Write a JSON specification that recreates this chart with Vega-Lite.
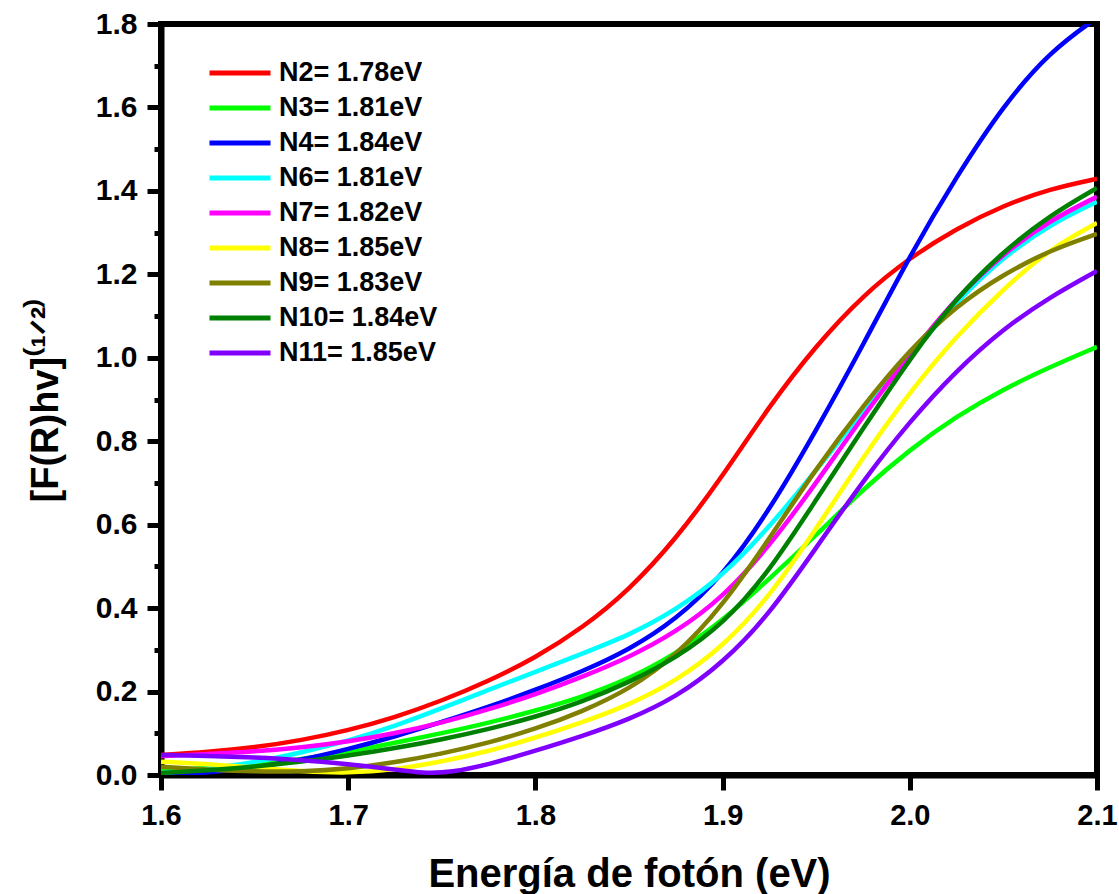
{
  "$schema": "https://vega.github.io/schema/vega-lite/v6.json",
  "width": 936,
  "height": 751,
  "autosize": {"type": "none"},
  "padding": {"left": 161, "top": 24, "right": 22, "bottom": 119},
  "background": "white",
  "config": {
    "view": {"stroke": "black", "strokeWidth": 6},
    "font": "Liberation Sans"
  },
  "datasets": {
    "curves": [
      {"s": "N2= 1.78eV", "x": 1.6, "y": 0.048}, {"s": "N2= 1.78eV", "x": 1.625, "y": 0.055}, {"s": "N2= 1.78eV", "x": 1.65, "y": 0.066}, {"s": "N2= 1.78eV", "x": 1.675, "y": 0.083}, {"s": "N2= 1.78eV", "x": 1.7, "y": 0.107}, {"s": "N2= 1.78eV", "x": 1.725, "y": 0.138}, {"s": "N2= 1.78eV", "x": 1.75, "y": 0.178}, {"s": "N2= 1.78eV", "x": 1.775, "y": 0.225}, {"s": "N2= 1.78eV", "x": 1.8, "y": 0.281}, {"s": "N2= 1.78eV", "x": 1.825, "y": 0.352}, {"s": "N2= 1.78eV", "x": 1.85, "y": 0.443}, {"s": "N2= 1.78eV", "x": 1.875, "y": 0.565}, {"s": "N2= 1.78eV", "x": 1.9, "y": 0.716}, {"s": "N2= 1.78eV", "x": 1.925, "y": 0.885}, {"s": "N2= 1.78eV", "x": 1.95, "y": 1.03}, {"s": "N2= 1.78eV", "x": 1.975, "y": 1.15}, {"s": "N2= 1.78eV", "x": 2.0, "y": 1.24}, {"s": "N2= 1.78eV", "x": 2.025, "y": 1.31}, {"s": "N2= 1.78eV", "x": 2.05, "y": 1.365}, {"s": "N2= 1.78eV", "x": 2.075, "y": 1.405}, {"s": "N2= 1.78eV", "x": 2.1, "y": 1.429},
      {"s": "N3= 1.81eV", "x": 1.6, "y": 0.01}, {"s": "N3= 1.81eV", "x": 1.625, "y": 0.016}, {"s": "N3= 1.81eV", "x": 1.65, "y": 0.025}, {"s": "N3= 1.81eV", "x": 1.675, "y": 0.038}, {"s": "N3= 1.81eV", "x": 1.7, "y": 0.055}, {"s": "N3= 1.81eV", "x": 1.725, "y": 0.077}, {"s": "N3= 1.81eV", "x": 1.75, "y": 0.1}, {"s": "N3= 1.81eV", "x": 1.775, "y": 0.125}, {"s": "N3= 1.81eV", "x": 1.8, "y": 0.154}, {"s": "N3= 1.81eV", "x": 1.825, "y": 0.187}, {"s": "N3= 1.81eV", "x": 1.85, "y": 0.23}, {"s": "N3= 1.81eV", "x": 1.875, "y": 0.29}, {"s": "N3= 1.81eV", "x": 1.9, "y": 0.37}, {"s": "N3= 1.81eV", "x": 1.925, "y": 0.47}, {"s": "N3= 1.81eV", "x": 1.95, "y": 0.575}, {"s": "N3= 1.81eV", "x": 1.975, "y": 0.685}, {"s": "N3= 1.81eV", "x": 2.0, "y": 0.78}, {"s": "N3= 1.81eV", "x": 2.025, "y": 0.86}, {"s": "N3= 1.81eV", "x": 2.05, "y": 0.925}, {"s": "N3= 1.81eV", "x": 2.075, "y": 0.978}, {"s": "N3= 1.81eV", "x": 2.1, "y": 1.026},
      {"s": "N4= 1.84eV", "x": 1.6, "y": 0.0}, {"s": "N4= 1.84eV", "x": 1.625, "y": 0.005}, {"s": "N4= 1.84eV", "x": 1.65, "y": 0.018}, {"s": "N4= 1.84eV", "x": 1.675, "y": 0.036}, {"s": "N4= 1.84eV", "x": 1.7, "y": 0.062}, {"s": "N4= 1.84eV", "x": 1.725, "y": 0.092}, {"s": "N4= 1.84eV", "x": 1.75, "y": 0.127}, {"s": "N4= 1.84eV", "x": 1.775, "y": 0.163}, {"s": "N4= 1.84eV", "x": 1.8, "y": 0.204}, {"s": "N4= 1.84eV", "x": 1.825, "y": 0.248}, {"s": "N4= 1.84eV", "x": 1.85, "y": 0.3}, {"s": "N4= 1.84eV", "x": 1.875, "y": 0.372}, {"s": "N4= 1.84eV", "x": 1.9, "y": 0.477}, {"s": "N4= 1.84eV", "x": 1.925, "y": 0.634}, {"s": "N4= 1.84eV", "x": 1.95, "y": 0.826}, {"s": "N4= 1.84eV", "x": 1.975, "y": 1.03}, {"s": "N4= 1.84eV", "x": 2.0, "y": 1.245}, {"s": "N4= 1.84eV", "x": 2.025, "y": 1.435}, {"s": "N4= 1.84eV", "x": 2.05, "y": 1.605}, {"s": "N4= 1.84eV", "x": 2.075, "y": 1.735}, {"s": "N4= 1.84eV", "x": 2.1, "y": 1.815},
      {"s": "N6= 1.81eV", "x": 1.6, "y": 0.005}, {"s": "N6= 1.81eV", "x": 1.625, "y": 0.015}, {"s": "N6= 1.81eV", "x": 1.65, "y": 0.03}, {"s": "N6= 1.81eV", "x": 1.675, "y": 0.054}, {"s": "N6= 1.81eV", "x": 1.7, "y": 0.082}, {"s": "N6= 1.81eV", "x": 1.725, "y": 0.117}, {"s": "N6= 1.81eV", "x": 1.75, "y": 0.16}, {"s": "N6= 1.81eV", "x": 1.775, "y": 0.204}, {"s": "N6= 1.81eV", "x": 1.8, "y": 0.247}, {"s": "N6= 1.81eV", "x": 1.825, "y": 0.291}, {"s": "N6= 1.81eV", "x": 1.85, "y": 0.335}, {"s": "N6= 1.81eV", "x": 1.875, "y": 0.395}, {"s": "N6= 1.81eV", "x": 1.9, "y": 0.477}, {"s": "N6= 1.81eV", "x": 1.925, "y": 0.594}, {"s": "N6= 1.81eV", "x": 1.95, "y": 0.73}, {"s": "N6= 1.81eV", "x": 1.975, "y": 0.872}, {"s": "N6= 1.81eV", "x": 2.0, "y": 1.005}, {"s": "N6= 1.81eV", "x": 2.025, "y": 1.135}, {"s": "N6= 1.81eV", "x": 2.05, "y": 1.242}, {"s": "N6= 1.81eV", "x": 2.075, "y": 1.32}, {"s": "N6= 1.81eV", "x": 2.1, "y": 1.374},
      {"s": "N7= 1.82eV", "x": 1.6, "y": 0.045}, {"s": "N7= 1.82eV", "x": 1.625, "y": 0.05}, {"s": "N7= 1.82eV", "x": 1.65, "y": 0.056}, {"s": "N7= 1.82eV", "x": 1.675, "y": 0.066}, {"s": "N7= 1.82eV", "x": 1.7, "y": 0.08}, {"s": "N7= 1.82eV", "x": 1.725, "y": 0.1}, {"s": "N7= 1.82eV", "x": 1.75, "y": 0.125}, {"s": "N7= 1.82eV", "x": 1.775, "y": 0.157}, {"s": "N7= 1.82eV", "x": 1.8, "y": 0.193}, {"s": "N7= 1.82eV", "x": 1.825, "y": 0.235}, {"s": "N7= 1.82eV", "x": 1.85, "y": 0.282}, {"s": "N7= 1.82eV", "x": 1.875, "y": 0.342}, {"s": "N7= 1.82eV", "x": 1.9, "y": 0.425}, {"s": "N7= 1.82eV", "x": 1.925, "y": 0.548}, {"s": "N7= 1.82eV", "x": 1.95, "y": 0.7}, {"s": "N7= 1.82eV", "x": 1.975, "y": 0.86}, {"s": "N7= 1.82eV", "x": 2.0, "y": 1.008}, {"s": "N7= 1.82eV", "x": 2.025, "y": 1.145}, {"s": "N7= 1.82eV", "x": 2.05, "y": 1.25}, {"s": "N7= 1.82eV", "x": 2.075, "y": 1.33}, {"s": "N7= 1.82eV", "x": 2.1, "y": 1.386},
      {"s": "N8= 1.85eV", "x": 1.6, "y": 0.032}, {"s": "N8= 1.85eV", "x": 1.625, "y": 0.026}, {"s": "N8= 1.85eV", "x": 1.65, "y": 0.018}, {"s": "N8= 1.85eV", "x": 1.675, "y": 0.009}, {"s": "N8= 1.85eV", "x": 1.7, "y": 0.004}, {"s": "N8= 1.85eV", "x": 1.725, "y": 0.013}, {"s": "N8= 1.85eV", "x": 1.75, "y": 0.032}, {"s": "N8= 1.85eV", "x": 1.775, "y": 0.057}, {"s": "N8= 1.85eV", "x": 1.8, "y": 0.089}, {"s": "N8= 1.85eV", "x": 1.825, "y": 0.126}, {"s": "N8= 1.85eV", "x": 1.85, "y": 0.168}, {"s": "N8= 1.85eV", "x": 1.875, "y": 0.225}, {"s": "N8= 1.85eV", "x": 1.9, "y": 0.307}, {"s": "N8= 1.85eV", "x": 1.925, "y": 0.427}, {"s": "N8= 1.85eV", "x": 1.95, "y": 0.59}, {"s": "N8= 1.85eV", "x": 1.975, "y": 0.762}, {"s": "N8= 1.85eV", "x": 2.0, "y": 0.918}, {"s": "N8= 1.85eV", "x": 2.025, "y": 1.053}, {"s": "N8= 1.85eV", "x": 2.05, "y": 1.165}, {"s": "N8= 1.85eV", "x": 2.075, "y": 1.262}, {"s": "N8= 1.85eV", "x": 2.1, "y": 1.323},
      {"s": "N9= 1.83eV", "x": 1.6, "y": 0.02}, {"s": "N9= 1.83eV", "x": 1.625, "y": 0.013}, {"s": "N9= 1.83eV", "x": 1.65, "y": 0.008}, {"s": "N9= 1.83eV", "x": 1.675, "y": 0.008}, {"s": "N9= 1.83eV", "x": 1.7, "y": 0.015}, {"s": "N9= 1.83eV", "x": 1.725, "y": 0.03}, {"s": "N9= 1.83eV", "x": 1.75, "y": 0.051}, {"s": "N9= 1.83eV", "x": 1.775, "y": 0.077}, {"s": "N9= 1.83eV", "x": 1.8, "y": 0.11}, {"s": "N9= 1.83eV", "x": 1.825, "y": 0.152}, {"s": "N9= 1.83eV", "x": 1.85, "y": 0.205}, {"s": "N9= 1.83eV", "x": 1.875, "y": 0.285}, {"s": "N9= 1.83eV", "x": 1.9, "y": 0.405}, {"s": "N9= 1.83eV", "x": 1.925, "y": 0.567}, {"s": "N9= 1.83eV", "x": 1.95, "y": 0.735}, {"s": "N9= 1.83eV", "x": 1.975, "y": 0.885}, {"s": "N9= 1.83eV", "x": 2.0, "y": 1.02}, {"s": "N9= 1.83eV", "x": 2.025, "y": 1.125}, {"s": "N9= 1.83eV", "x": 2.05, "y": 1.2}, {"s": "N9= 1.83eV", "x": 2.075, "y": 1.258}, {"s": "N9= 1.83eV", "x": 2.1, "y": 1.297},
      {"s": "N10= 1.84eV", "x": 1.6, "y": 0.005}, {"s": "N10= 1.84eV", "x": 1.625, "y": 0.011}, {"s": "N10= 1.84eV", "x": 1.65, "y": 0.02}, {"s": "N10= 1.84eV", "x": 1.675, "y": 0.032}, {"s": "N10= 1.84eV", "x": 1.7, "y": 0.046}, {"s": "N10= 1.84eV", "x": 1.725, "y": 0.064}, {"s": "N10= 1.84eV", "x": 1.75, "y": 0.085}, {"s": "N10= 1.84eV", "x": 1.775, "y": 0.11}, {"s": "N10= 1.84eV", "x": 1.8, "y": 0.139}, {"s": "N10= 1.84eV", "x": 1.825, "y": 0.175}, {"s": "N10= 1.84eV", "x": 1.85, "y": 0.222}, {"s": "N10= 1.84eV", "x": 1.875, "y": 0.28}, {"s": "N10= 1.84eV", "x": 1.9, "y": 0.36}, {"s": "N10= 1.84eV", "x": 1.925, "y": 0.488}, {"s": "N10= 1.84eV", "x": 1.95, "y": 0.66}, {"s": "N10= 1.84eV", "x": 1.975, "y": 0.83}, {"s": "N10= 1.84eV", "x": 2.0, "y": 0.998}, {"s": "N10= 1.84eV", "x": 2.025, "y": 1.145}, {"s": "N10= 1.84eV", "x": 2.05, "y": 1.255}, {"s": "N10= 1.84eV", "x": 2.075, "y": 1.342}, {"s": "N10= 1.84eV", "x": 2.1, "y": 1.407},
      {"s": "N11= 1.85eV", "x": 1.6, "y": 0.048}, {"s": "N11= 1.85eV", "x": 1.625, "y": 0.046}, {"s": "N11= 1.85eV", "x": 1.65, "y": 0.042}, {"s": "N11= 1.85eV", "x": 1.675, "y": 0.036}, {"s": "N11= 1.85eV", "x": 1.7, "y": 0.026}, {"s": "N11= 1.85eV", "x": 1.725, "y": 0.013}, {"s": "N11= 1.85eV", "x": 1.74, "y": 0.004}, {"s": "N11= 1.85eV", "x": 1.755, "y": 0.006}, {"s": "N11= 1.85eV", "x": 1.775, "y": 0.025}, {"s": "N11= 1.85eV", "x": 1.8, "y": 0.058}, {"s": "N11= 1.85eV", "x": 1.825, "y": 0.093}, {"s": "N11= 1.85eV", "x": 1.85, "y": 0.133}, {"s": "N11= 1.85eV", "x": 1.875, "y": 0.186}, {"s": "N11= 1.85eV", "x": 1.9, "y": 0.268}, {"s": "N11= 1.85eV", "x": 1.925, "y": 0.385}, {"s": "N11= 1.85eV", "x": 1.95, "y": 0.545}, {"s": "N11= 1.85eV", "x": 1.975, "y": 0.705}, {"s": "N11= 1.85eV", "x": 2.0, "y": 0.848}, {"s": "N11= 1.85eV", "x": 2.025, "y": 0.97}, {"s": "N11= 1.85eV", "x": 2.05, "y": 1.07}, {"s": "N11= 1.85eV", "x": 2.075, "y": 1.146}, {"s": "N11= 1.85eV", "x": 2.1, "y": 1.208}
    ]
  },
  "data": {"name": "curves"},
  "mark": {"type": "line", "interpolate": "basis", "strokeWidth": 4.5, "clip": true},
  "encoding": {
    "x": {
      "field": "x",
      "type": "quantitative",
      "scale": {"domain": [1.6, 2.1], "nice": false, "zero": false},
      "axis": {
        "title": "Energía de fotón (eV)",
        "values": [1.6, 1.7, 1.8, 1.9, 2.0, 2.1],
        "format": ".1f",
        "grid": false,
        "labelFlush": false,
        "labelOverlap": false,
        "labelFont": "Liberation Sans",
        "labelFontWeight": "bold",
        "labelFontSize": 29,
        "labelColor": "black",
        "labelPadding": 11,
        "tickSize": 15,
        "tickWidth": 5,
        "tickColor": "black",
        "domainColor": "black",
        "domainWidth": 6,
        "titleFont": "Liberation Sans",
        "titleFontWeight": "bold",
        "titleFontSize": 40,
        "titleColor": "black",
        "titlePadding": 24
      }
    },
    "y": {
      "field": "y",
      "type": "quantitative",
      "scale": {"domain": [0, 1.8], "nice": false, "zero": false},
      "axis": {
        "title": "[F(R)hv]⁽¹ᐟ²⁾",
        "values": [0, 0.1, 0.2, 0.3, 0.4, 0.5, 0.6, 0.7, 0.8, 0.9, 1.0, 1.1, 1.2, 1.3, 1.4, 1.5, 1.6, 1.7, 1.8],
        "labelExpr": "round(datum.value*10) % 2 === 0 ? format(datum.value, '.1f') : ''",
        "grid": false,
        "labelFlush": false,
        "labelOverlap": false,
        "labelFont": "Liberation Sans",
        "labelFontWeight": "bold",
        "labelFontSize": 30,
        "labelColor": "black",
        "labelPadding": 10,
        "tickSize": {"condition": {"test": "round(datum.value*10) % 2 === 0", "value": 14}, "value": 7},
        "tickWidth": 5,
        "tickColor": "black",
        "domainColor": "black",
        "domainWidth": 6,
        "titleFont": "Liberation Sans",
        "titleFontWeight": "bold",
        "titleFontSize": 38,
        "titleColor": "black",
        "titlePadding": 30
      }
    },
    "color": {
      "field": "s",
      "type": "nominal",
      "sort": null,
      "scale": {
        "domain": ["N2= 1.78eV", "N3= 1.81eV", "N4= 1.84eV", "N6= 1.81eV", "N7= 1.82eV", "N8= 1.85eV", "N9= 1.83eV", "N10= 1.84eV", "N11= 1.85eV"],
        "range": ["#FF0000", "#00FF00", "#0000FF", "#00FFFF", "#FF00FF", "#FFFF00", "#808000", "#008000", "#8000FF"]
      },
      "legend": {
        "orient": "none",
        "legendX": 46,
        "legendY": 34,
        "title": null,
        "padding": 0,
        "symbolType": "stroke",
        "symbolSize": 3721,
        "symbolStrokeWidth": 5,
        "clipHeight": 30,
        "labelFont": "Liberation Sans",
        "labelFontWeight": "bold",
        "labelFontSize": 27,
        "labelColor": "black",
        "labelOffset": 6,
        "labelLimit": 400,
        "rowPadding": 5
      }
    }
  }
}
